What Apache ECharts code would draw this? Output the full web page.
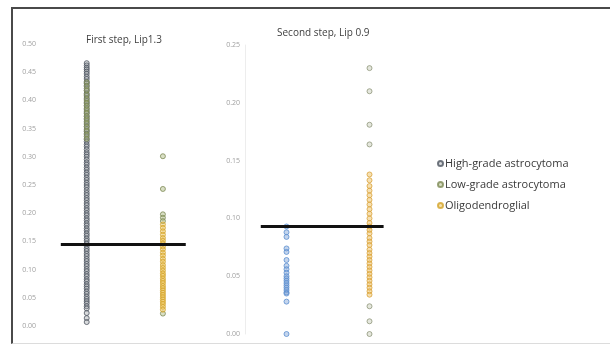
<!DOCTYPE html>
<html>
<head>
<meta charset="utf-8">
<script src="https://cdn.jsdelivr.net/npm/echarts@6/dist/echarts.min.js"></script>
<style>
  html, body { margin: 0; padding: 0; background: #fff; }
  #frame {
    position: absolute; left: 11px; top: 7px; width: 599px; height: 334px;
    border-top: 2px solid #4a4a4a; border-left: 2px solid #4a4a4a; border-bottom: 1px solid #dcdcdc;
  }
  #chart { position: absolute; left: 0; top: 0; width: 610px; height: 346px; }
</style>
</head>
<body>
<div id="frame"></div>
<div id="chart"></div>
<script>
// series names (legend order)
const seriesNames = ['High-grade astrocytoma', 'Low-grade astrocytoma', 'Oligodendroglial']
const panelTitles = ['First step, Lip1.3', 'Second step, Lip 0.9']

// first step: column 1 and column 2 values
const step1High = [
  0.466, 0.462, 0.458, 0.455, 0.451, 0.447, 0.442, 0.438, 0.433, 0.430, 0.426, 0.421,
  0.417, 0.412, 0.408, 0.404, 0.399, 0.395, 0.391, 0.386, 0.381, 0.377, 0.372, 0.368,
  0.363, 0.358, 0.354, 0.349, 0.345, 0.341, 0.336, 0.331, 0.327, 0.322, 0.318, 0.313,
  0.308, 0.304, 0.300, 0.295, 0.290, 0.286, 0.281, 0.277, 0.272, 0.268, 0.263, 0.259,
  0.254, 0.250, 0.246, 0.241, 0.236, 0.232, 0.227, 0.223, 0.218, 0.214, 0.209, 0.205,
  0.200, 0.196, 0.191, 0.187, 0.182, 0.178, 0.173, 0.169, 0.164, 0.160, 0.155, 0.151,
  0.146, 0.142, 0.137, 0.133, 0.128, 0.124, 0.119, 0.115, 0.110, 0.106, 0.101, 0.097,
  0.092, 0.088, 0.083, 0.079, 0.074, 0.070, 0.066, 0.061, 0.057, 0.052, 0.048, 0.044,
  0.040, 0.035, 0.031, 0.023, 0.014, 0.007
]
const step1LowCol1 = [
  0.432, 0.425, 0.418, 0.410, 0.402, 0.396, 0.390, 0.384, 0.378, 0.372, 0.366,
  0.360, 0.353, 0.346, 0.339, 0.332
]
const step1LowCol2 = [0.301, 0.243, 0.198, 0.192, 0.186, 0.022]
const step1Oligo = [
  0.180, 0.174, 0.168, 0.162, 0.156, 0.151, 0.146, 0.141, 0.136, 0.130, 0.125, 0.119,
  0.114, 0.108, 0.103, 0.098, 0.093, 0.089, 0.084, 0.080, 0.076, 0.071, 0.067, 0.063,
  0.059, 0.055, 0.051, 0.047, 0.043, 0.039, 0.034, 0.029
]

// second step
const step2High = [
  0.093, 0.088, 0.084, 0.074, 0.071, 0.064, 0.059, 0.056, 0.053, 0.050, 0.048, 0.046,
  0.044, 0.042, 0.040, 0.038, 0.036, 0.035, 0.028, 0.000
]
const step2LowCol2 = [0.230, 0.210, 0.181, 0.164, 0.024, 0.011, 0.000]
const step2Oligo = [
  0.138, 0.133, 0.128, 0.124, 0.120, 0.116, 0.112, 0.108, 0.104, 0.100, 0.096, 0.093,
  0.090, 0.087, 0.083, 0.080, 0.077, 0.073, 0.070, 0.067, 0.064, 0.061, 0.058, 0.055,
  0.052, 0.049, 0.046, 0.043, 0.040, 0.037, 0.034
]

// cut-off lines: [xStart, xEnd, y]
const step1Cutoff = [0.66, 2.30, 0.145]
const step2Cutoff = [0.69, 2.17, 0.093]

const axisMax = [0.5, 0.25]

const column = (x, values) => values.map((v) => [x, v])

const FONT = 'Open Sans, sans-serif'

const chart = echarts.init(document.getElementById('chart'), null, { renderer: 'canvas' })

function scatter(name, grid, data, border, fill, extra) {
  return Object.assign({
    name,
    type: 'scatter',
    xAxisIndex: grid,
    yAxisIndex: grid,
    data,
    symbol: 'circle',
    symbolSize: 5,
    itemStyle: { color: fill, borderColor: border, borderWidth: 1 },
  }, extra || {})
}

function cutoff(c) {
  return {
    silent: true,
    symbol: 'none',
    label: { show: false },
    lineStyle: { color: '#111', width: 3, type: 'solid' },
    data: [[{ coord: [c[0], c[2]] }, { coord: [c[1], c[2]] }]],
  }
}

const yAxisBase = (grid, max, showLine) => ({
  type: 'value',
  gridIndex: grid,
  min: 0,
  max,
  interval: 0.05,
  splitLine: { show: false },
  axisTick: { show: false },
  axisLine: { show: showLine, lineStyle: { color: '#ededed' } },
  axisLabel: {
    color: '#a0a0a0',
    fontSize: 7,
    fontFamily: FONT,
    margin: 5,
    formatter: (v) => v.toFixed(2),
  },
})

const xAxisBase = (grid, min, max) => ({
  type: 'value', gridIndex: grid, min, max, show: false,
})

chart.setOption({
  animation: false,
  backgroundColor: 'transparent',
  title: [
    { text: panelTitles[0], left: 81, top: 30,
      textStyle: { fontSize: 10, fontWeight: 'normal', color: '#404040', fontFamily: FONT } },
    { text: panelTitles[1], left: 272, top: 23,
      textStyle: { fontSize: 10, fontWeight: 'normal', color: '#404040', fontFamily: FONT } },
  ],
  legend: {
    data: seriesNames,
    orient: 'vertical',
    left: 432,
    top: 153,
    itemGap: 10,
    itemWidth: 5,
    itemHeight: 5,
    icon: 'circle',
    textStyle: { fontSize: 11, color: '#3a3a3a', fontFamily: FONT, padding: [0, 0, 0, -3] },
  },
  grid: [
    { left: 41, width: 160, top: 44, height: 282 },
    { left: 245, width: 166, top: 45, height: 289 },
  ],
  xAxis: [xAxisBase(0, 0.4, 2.5), xAxisBase(1, 0.5, 2.5)],
  yAxis: [yAxisBase(0, axisMax[0], false), yAxisBase(1, axisMax[1], true)],
  series: [
    scatter(seriesNames[0], 0, column(1, step1High), '#4d5560', 'rgba(150,155,160,0.45)',
      { markLine: cutoff(step1Cutoff) }),
    scatter(seriesNames[1], 0, column(1, step1LowCol1).concat(column(2, step1LowCol2)),
      '#7d8a55', 'rgba(160,175,110,0.5)'),
    scatter(seriesNames[2], 0, column(2, step1Oligo), '#d3a42a', 'rgba(235,190,70,0.55)'),
    scatter(seriesNames[0], 1, column(1, step2High), '#5b8fd0', 'rgba(120,160,215,0.55)',
      { markLine: cutoff(step2Cutoff) }),
    scatter(seriesNames[2], 1, column(2, step2Oligo), '#d9a23a', 'rgba(235,185,80,0.55)'),
    scatter(seriesNames[1], 1, column(2, step2LowCol2), '#8f967a', 'rgba(190,195,170,0.5)'),
  ],
})
</script>
</body>
</html>
